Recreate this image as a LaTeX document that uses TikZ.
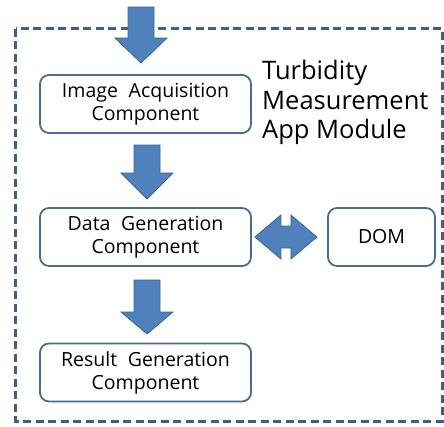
\documentclass[tikz,border=0pt]{standalone}
\usepackage{fontspec}
\setmainfont{Open Sans}
\definecolor{arrowfill}{HTML}{4F81BD}
\definecolor{arrowline}{HTML}{3A6596}
\definecolor{frameblue}{HTML}{3E5F8A}
\definecolor{boxline}{HTML}{4A6B94}
\tikzset{
  compbox/.style={draw=boxline, line width=1.8pt, rounded corners=9pt, fill=white,
    align=center, font=\fontsize{19.5}{23}\selectfont, text=black, inner sep=0pt},
  blockarrow/.style={fill=arrowfill, draw=arrowline, line width=0.8pt, line join=miter},
  framebox/.style={draw=frameblue, line width=3pt, dash pattern=on 8pt off 4.5pt}
}
\newcommand\blockdown[4]{%
  \draw[blockarrow] (#1-13,#2) -- (#1+13,#2) -- (#1+13,#3) -- (#1+26,#3) -- (#1,#4)
    -- (#1-26,#3) -- (#1-13,#3) -- cycle;}
\newcommand\wsp{\hspace{0.55em}}
\begin{document}
\begin{tikzpicture}[x=1pt,y=-1pt]
\useasboundingbox (0,0) rectangle (444,426);
\draw[framebox] (15.5,28.5) rectangle (442,421);
\blockdown{141}{7}{38}{63}
\node[compbox, minimum width=211pt, minimum height=58pt] (img) at (145.5,104) {Image\wsp Acquisition\\Component};
\node[compbox, minimum width=211pt, minimum height=58pt] (dat) at (145.5,237) {Data\wsp Generation\\Component};
\node[compbox, minimum width=211pt, minimum height=58pt] (res) at (145.5,372.5) {Result\wsp Generation\\Component};
\node[compbox, minimum width=107pt, minimum height=58pt] (dom) at (381.5,237) {DOM};
\node[anchor=north west, align=left, inner sep=0pt, font=\fontsize{25.5}{29.5}\selectfont] (title) at (262,60) {Turbidity\\Measurement\\App Module};
\blockdown{147}{145}{173}{199}
\blockdown{147}{280}{312}{334}
\draw[blockarrow] (dat.east) ++(3,0) coordinate (dl) -- ++(26,-22) -- ++(0,11) -- ++(10,0) -- ++(0,-11) -- ++(26,22) coordinate (dr)
  -- ++(-26,22) -- ++(0,-11) -- ++(-10,0) -- ++(0,11) -- cycle;
\end{tikzpicture}
\end{document}
